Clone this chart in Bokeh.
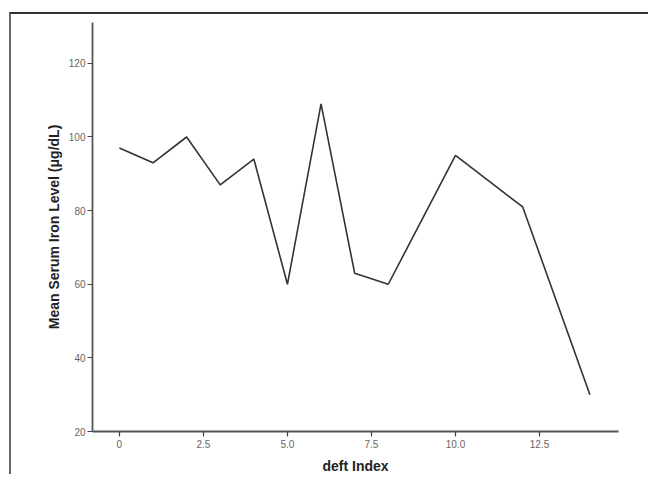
from bokeh.plotting import figure
from bokeh.models import FixedTicker, Range1d
from bokeh.embed import file_html
from bokeh.resources import INLINE

# Data
deft_index = [0, 1, 2, 3, 4, 5, 6, 7, 8, 10, 12, 14]
mean_serum_iron = [97, 93, 100, 87, 94, 60, 109, 63, 60, 95, 81, 30]
x_ticks = [0, 2.5, 5.0, 7.5, 10.0, 12.5]
x_tick_labels = ["0", "2.5", "5.0", "7.5", "10.0", "12.5"]
y_ticks = [20, 40, 60, 80, 100, 120]

p = figure(width=639, height=462, output_backend="svg", toolbar_location=None,
           x_range=Range1d(-0.8, 14.85), y_range=Range1d(20, 131.1),
           min_border_left=81, min_border_top=8, min_border_right=32, min_border_bottom=45)
p.styles = {"border-top": "2px solid #333333", "border-left": "2px solid #666666",
            "margin-top": "12px", "margin-left": "9px"}

p.line(deft_index, mean_serum_iron, line_color="#333333", line_width=1.6)

p.xgrid.visible = False
p.ygrid.visible = False
p.outline_line_color = None
p.background_fill_color = "white"
p.border_fill_color = "white"

for ax in (p.xaxis[0], p.yaxis[0]):
    ax.axis_line_color = "#555555"
    ax.axis_line_width = 1.8
    ax.major_tick_line_color = "#444444"
    ax.major_tick_line_width = 1.2
    ax.major_tick_in = 0
    ax.major_tick_out = 5
    ax.minor_tick_line_color = None
    ax.major_label_text_font = "Liberation Sans"
    ax.major_label_text_font_size = "10px"
    ax.major_label_text_color = "#666666"
    ax.axis_label_text_font = "Liberation Sans"
    ax.axis_label_text_font_style = "bold"
    ax.axis_label_text_font_size = "14px"
    ax.axis_label_text_color = "#222222"

p.xaxis.ticker = FixedTicker(ticks=x_ticks)
p.xaxis.major_label_overrides = {t: l for t, l in zip(x_ticks, x_tick_labels)}
p.xaxis.axis_label = "deft Index"
p.xaxis.major_label_standoff = 3
p.xaxis.axis_label_standoff = 7

p.yaxis.ticker = FixedTicker(ticks=y_ticks)
p.yaxis.axis_label = "Mean Serum Iron Level (μg/dL)"
p.yaxis.major_label_standoff = 2
p.yaxis.axis_label_standoff = 4

open("out.html", "w").write(file_html(p, INLINE))
